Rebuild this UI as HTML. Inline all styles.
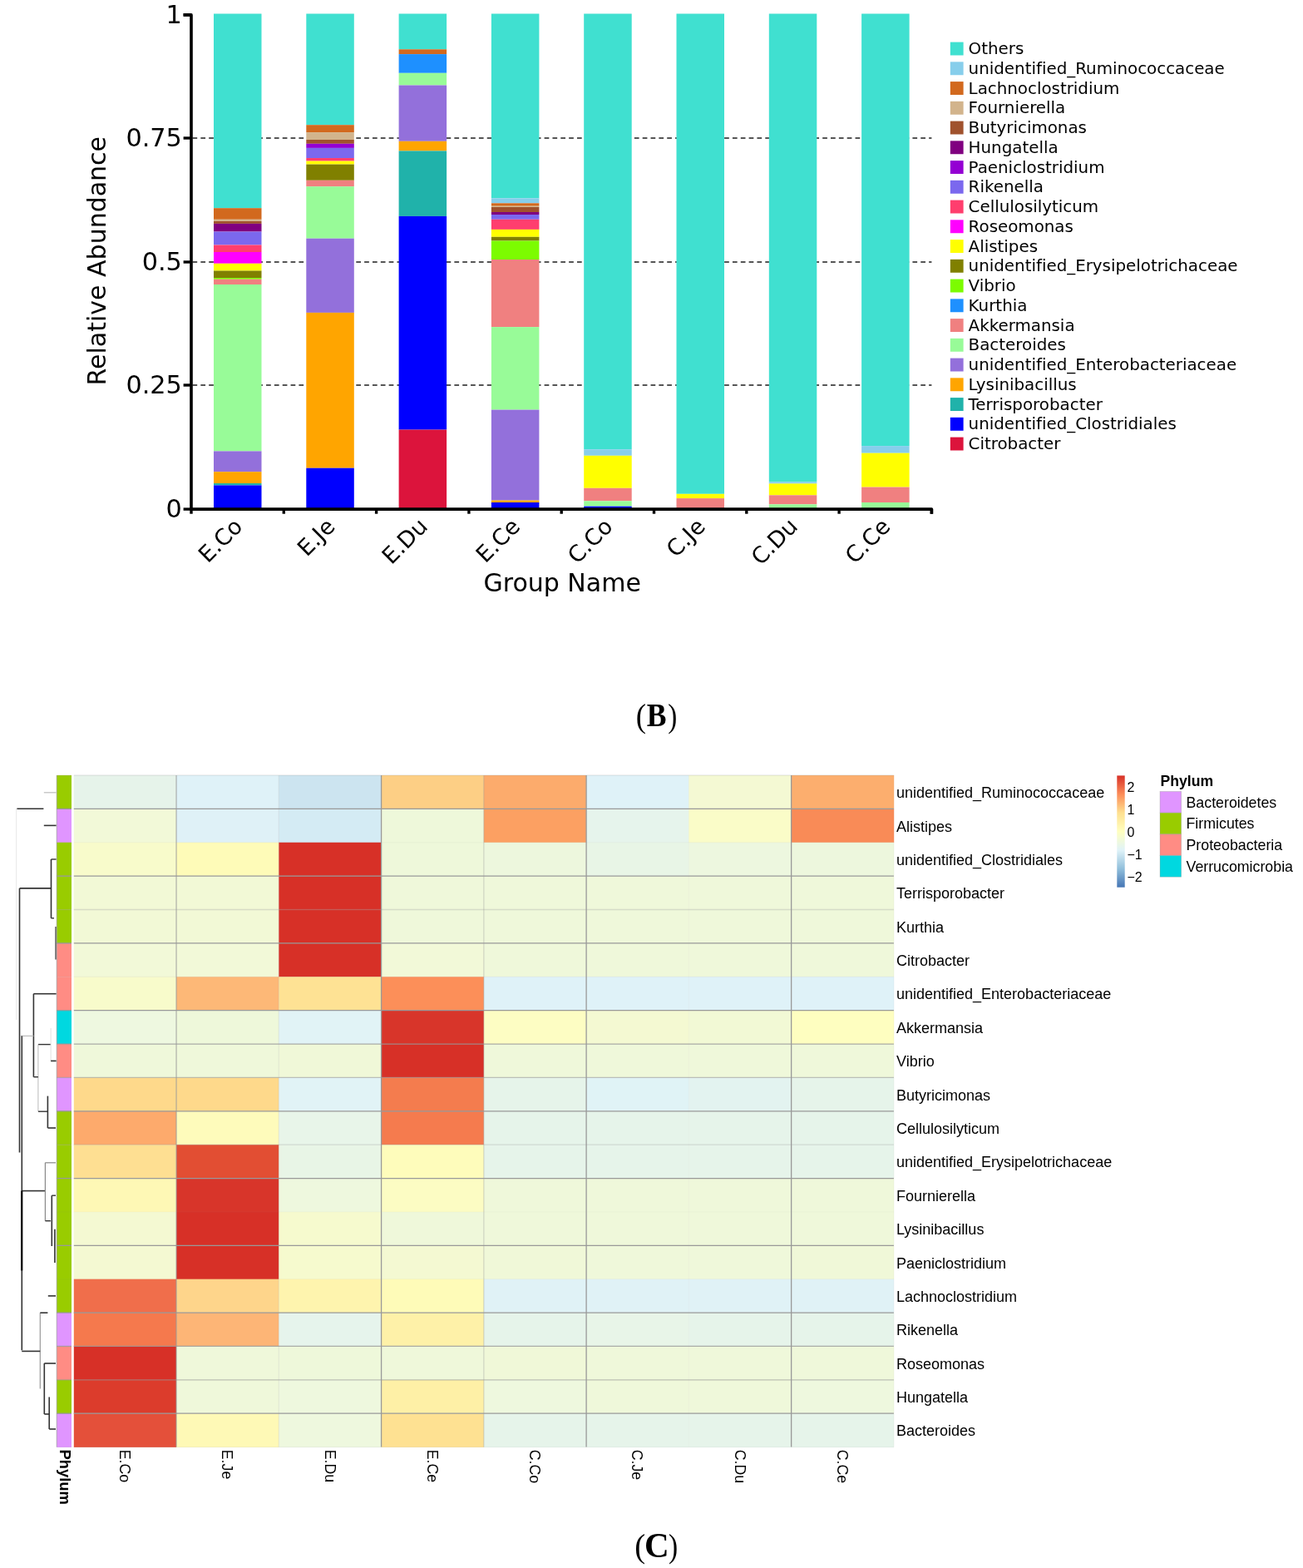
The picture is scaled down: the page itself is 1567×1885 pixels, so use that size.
<!DOCTYPE html><html><head><meta charset="utf-8"><style>html,body{margin:0;padding:0;background:#fff;}svg{display:block;}.dj{font-family:"DejaVu Sans",sans-serif;} .ls{font-family:"Liberation Sans",Arial,sans-serif;} .lr{font-family:"Liberation Serif","Times New Roman",serif;} text{font-variant-ligatures:none;font-feature-settings:"liga" 0;}</style></head><body>
<svg width="1567" height="1885" viewBox="0 0 1567 1885">
<rect width="1567" height="1885" fill="#fff"/>
<line x1="230.0" y1="463.00" x2="1120.4" y2="463.00" stroke="#555" stroke-width="1.8" stroke-dasharray="5.7 4.14" stroke-dashoffset="-1.5"/>
<line x1="230.0" y1="315.00" x2="1120.4" y2="315.00" stroke="#555" stroke-width="1.8" stroke-dasharray="5.7 4.14" stroke-dashoffset="-1.5"/>
<line x1="230.0" y1="166.00" x2="1120.4" y2="166.00" stroke="#555" stroke-width="1.8" stroke-dasharray="5.7 4.14" stroke-dashoffset="-1.5"/>
<rect x="257.00" y="16.50" width="57.5" height="233.70" fill="#40E0D0"/>
<rect x="257.00" y="250.20" width="57.5" height="13.60" fill="#D2691E"/>
<rect x="257.00" y="263.80" width="57.5" height="2.20" fill="#D2B48C"/>
<rect x="257.00" y="266.00" width="57.5" height="2.90" fill="#A0522D"/>
<rect x="257.00" y="268.90" width="57.5" height="9.60" fill="#800080"/>
<rect x="257.00" y="278.50" width="57.5" height="16.00" fill="#7B68EE"/>
<rect x="257.00" y="294.50" width="57.5" height="8.50" fill="#FF3E6E"/>
<rect x="257.00" y="303.00" width="57.5" height="13.80" fill="#FF00FF"/>
<rect x="257.00" y="316.80" width="57.5" height="8.70" fill="#FFFF00"/>
<rect x="257.00" y="325.50" width="57.5" height="8.50" fill="#808000"/>
<rect x="257.00" y="334.00" width="57.5" height="1.70" fill="#7CFC00"/>
<rect x="257.00" y="335.70" width="57.5" height="6.30" fill="#F08080"/>
<rect x="257.00" y="342.00" width="57.5" height="200.40" fill="#98FB98"/>
<rect x="257.00" y="542.40" width="57.5" height="24.80" fill="#9370DB"/>
<rect x="257.00" y="567.20" width="57.5" height="13.80" fill="#FFA500"/>
<rect x="257.00" y="581.00" width="57.5" height="2.40" fill="#20B2AA"/>
<rect x="257.00" y="583.40" width="57.5" height="28.60" fill="#0000FF"/>
<rect x="368.30" y="16.50" width="57.5" height="133.70" fill="#40E0D0"/>
<rect x="368.30" y="150.20" width="57.5" height="8.90" fill="#D2691E"/>
<rect x="368.30" y="159.10" width="57.5" height="8.90" fill="#D2B48C"/>
<rect x="368.30" y="168.00" width="57.5" height="4.80" fill="#A0522D"/>
<rect x="368.30" y="172.80" width="57.5" height="5.10" fill="#9400D3"/>
<rect x="368.30" y="177.90" width="57.5" height="12.10" fill="#7B68EE"/>
<rect x="368.30" y="190.00" width="57.5" height="3.60" fill="#FF3E6E"/>
<rect x="368.30" y="193.60" width="57.5" height="4.00" fill="#FFFF00"/>
<rect x="368.30" y="197.60" width="57.5" height="19.20" fill="#808000"/>
<rect x="368.30" y="216.80" width="57.5" height="7.40" fill="#F08080"/>
<rect x="368.30" y="224.20" width="57.5" height="62.50" fill="#98FB98"/>
<rect x="368.30" y="286.70" width="57.5" height="89.20" fill="#9370DB"/>
<rect x="368.30" y="375.90" width="57.5" height="186.80" fill="#FFA500"/>
<rect x="368.30" y="562.70" width="57.5" height="49.30" fill="#0000FF"/>
<rect x="479.60" y="16.50" width="57.5" height="42.80" fill="#40E0D0"/>
<rect x="479.60" y="59.30" width="57.5" height="5.80" fill="#D2691E"/>
<rect x="479.60" y="65.10" width="57.5" height="22.70" fill="#1E90FF"/>
<rect x="479.60" y="87.80" width="57.5" height="14.70" fill="#98FB98"/>
<rect x="479.60" y="102.50" width="57.5" height="67.30" fill="#9370DB"/>
<rect x="479.60" y="169.80" width="57.5" height="11.60" fill="#FFA500"/>
<rect x="479.60" y="181.40" width="57.5" height="78.50" fill="#20B2AA"/>
<rect x="479.60" y="259.90" width="57.5" height="256.70" fill="#0000FF"/>
<rect x="479.60" y="516.60" width="57.5" height="95.40" fill="#DC143C"/>
<rect x="590.90" y="16.50" width="57.5" height="221.80" fill="#40E0D0"/>
<rect x="590.90" y="238.30" width="57.5" height="6.00" fill="#87CEEB"/>
<rect x="590.90" y="244.30" width="57.5" height="3.40" fill="#D2691E"/>
<rect x="590.90" y="247.70" width="57.5" height="1.30" fill="#D2B48C"/>
<rect x="590.90" y="249.00" width="57.5" height="6.00" fill="#A0522D"/>
<rect x="590.90" y="255.00" width="57.5" height="3.00" fill="#800080"/>
<rect x="590.90" y="258.00" width="57.5" height="5.80" fill="#7B68EE"/>
<rect x="590.90" y="263.80" width="57.5" height="12.10" fill="#FF3E6E"/>
<rect x="590.90" y="275.90" width="57.5" height="8.90" fill="#FFFF00"/>
<rect x="590.90" y="284.80" width="57.5" height="4.70" fill="#808000"/>
<rect x="590.90" y="289.50" width="57.5" height="22.50" fill="#7CFC00"/>
<rect x="590.90" y="312.00" width="57.5" height="81.10" fill="#F08080"/>
<rect x="590.90" y="393.10" width="57.5" height="99.50" fill="#98FB98"/>
<rect x="590.90" y="492.60" width="57.5" height="108.90" fill="#9370DB"/>
<rect x="590.90" y="601.50" width="57.5" height="2.50" fill="#FFA500"/>
<rect x="590.90" y="604.00" width="57.5" height="8.00" fill="#0000FF"/>
<rect x="702.20" y="16.50" width="57.5" height="523.70" fill="#40E0D0"/>
<rect x="702.20" y="540.20" width="57.5" height="7.60" fill="#87CEEB"/>
<rect x="702.20" y="547.80" width="57.5" height="39.00" fill="#FFFF00"/>
<rect x="702.20" y="586.80" width="57.5" height="15.50" fill="#F08080"/>
<rect x="702.20" y="602.30" width="57.5" height="6.40" fill="#98FB98"/>
<rect x="702.20" y="608.70" width="57.5" height="3.30" fill="#0000FF"/>
<rect x="813.50" y="16.50" width="57.5" height="577.30" fill="#40E0D0"/>
<rect x="813.50" y="593.80" width="57.5" height="5.30" fill="#FFFF00"/>
<rect x="813.50" y="599.10" width="57.5" height="12.90" fill="#F08080"/>
<rect x="924.80" y="16.50" width="57.5" height="562.90" fill="#40E0D0"/>
<rect x="924.80" y="579.40" width="57.5" height="2.00" fill="#87CEEB"/>
<rect x="924.80" y="581.40" width="57.5" height="13.90" fill="#FFFF00"/>
<rect x="924.80" y="595.30" width="57.5" height="11.00" fill="#F08080"/>
<rect x="924.80" y="606.30" width="57.5" height="5.70" fill="#98FB98"/>
<rect x="1036.10" y="16.50" width="57.5" height="519.60" fill="#40E0D0"/>
<rect x="1036.10" y="536.10" width="57.5" height="8.60" fill="#87CEEB"/>
<rect x="1036.10" y="544.70" width="57.5" height="40.90" fill="#FFFF00"/>
<rect x="1036.10" y="585.60" width="57.5" height="18.40" fill="#F08080"/>
<rect x="1036.10" y="604.00" width="57.5" height="8.00" fill="#98FB98"/>
<path d="M220.6 17.9 H230.0 V612.1 H1120.4 V617.7" fill="none" stroke="#000" stroke-width="3.6" stroke-linejoin="round"/>
<line x1="220.6" y1="612.10" x2="230.0" y2="612.10" stroke="#000" stroke-width="3.4"/>
<line x1="220.6" y1="463.00" x2="230.0" y2="463.00" stroke="#000" stroke-width="3.4"/>
<line x1="220.6" y1="315.00" x2="230.0" y2="315.00" stroke="#000" stroke-width="3.4"/>
<line x1="220.6" y1="166.00" x2="230.0" y2="166.00" stroke="#000" stroke-width="3.4"/>
<line x1="220.6" y1="17.90" x2="230.0" y2="17.90" stroke="#000" stroke-width="3.4"/>
<line x1="230.00" y1="612.1" x2="230.00" y2="617.7" stroke="#000" stroke-width="3.4"/>
<line x1="341.30" y1="612.1" x2="341.30" y2="617.7" stroke="#000" stroke-width="3.4"/>
<line x1="452.60" y1="612.1" x2="452.60" y2="617.7" stroke="#000" stroke-width="3.4"/>
<line x1="563.90" y1="612.1" x2="563.90" y2="617.7" stroke="#000" stroke-width="3.4"/>
<line x1="675.20" y1="612.1" x2="675.20" y2="617.7" stroke="#000" stroke-width="3.4"/>
<line x1="786.50" y1="612.1" x2="786.50" y2="617.7" stroke="#000" stroke-width="3.4"/>
<line x1="897.80" y1="612.1" x2="897.80" y2="617.7" stroke="#000" stroke-width="3.4"/>
<line x1="1009.10" y1="612.1" x2="1009.10" y2="617.7" stroke="#000" stroke-width="3.4"/>
<line x1="1120.40" y1="612.1" x2="1120.40" y2="617.7" stroke="#000" stroke-width="3.4"/>
<text class="dj" x="218.9" y="621.60" font-size="30.3" text-anchor="end">0</text>
<text class="dj" x="218.9" y="472.50" font-size="30.3" text-anchor="end">0.25</text>
<text class="dj" x="218.9" y="324.50" font-size="30.3" text-anchor="end">0.5</text>
<text class="dj" x="218.9" y="175.50" font-size="30.3" text-anchor="end">0.75</text>
<text class="dj" x="218.9" y="28.00" font-size="30.3" text-anchor="end">1</text>
<text class="dj" transform="translate(126.9 313.7) rotate(-90)" font-size="30" text-anchor="middle">Relative Abundance</text>
<text class="dj" x="676.2" y="710.6" font-size="30" text-anchor="middle">Group Name</text>
<text class="dj" transform="translate(293.15 634.5) rotate(-45)" font-size="27" text-anchor="end">E.Co</text>
<text class="dj" transform="translate(404.45 634.5) rotate(-45)" font-size="27" text-anchor="end">E.Je</text>
<text class="dj" transform="translate(515.75 634.5) rotate(-45)" font-size="27" text-anchor="end">E.Du</text>
<text class="dj" transform="translate(627.05 634.5) rotate(-45)" font-size="27" text-anchor="end">E.Ce</text>
<text class="dj" transform="translate(738.35 634.5) rotate(-45)" font-size="27" text-anchor="end">C.Co</text>
<text class="dj" transform="translate(849.65 634.5) rotate(-45)" font-size="27" text-anchor="end">C.Je</text>
<text class="dj" transform="translate(960.95 634.5) rotate(-45)" font-size="27" text-anchor="end">C.Du</text>
<text class="dj" transform="translate(1072.25 634.5) rotate(-45)" font-size="27" text-anchor="end">C.Ce</text>
<rect x="1142.8" y="50.60" width="15.8" height="15.9" fill="#40E0D0"/>
<text class="dj" x="1164.6" y="65.20" font-size="19.85">Others</text>
<rect x="1142.8" y="74.35" width="15.8" height="15.9" fill="#87CEEB"/>
<text class="dj" x="1164.6" y="88.95" font-size="19.85">unidentified_Ruminococcaceae</text>
<rect x="1142.8" y="98.10" width="15.8" height="15.9" fill="#D2691E"/>
<text class="dj" x="1164.6" y="112.70" font-size="19.85">Lachnoclostridium</text>
<rect x="1142.8" y="121.85" width="15.8" height="15.9" fill="#D2B48C"/>
<text class="dj" x="1164.6" y="136.45" font-size="19.85">Fournierella</text>
<rect x="1142.8" y="145.60" width="15.8" height="15.9" fill="#A0522D"/>
<text class="dj" x="1164.6" y="160.20" font-size="19.85">Butyricimonas</text>
<rect x="1142.8" y="169.35" width="15.8" height="15.9" fill="#800080"/>
<text class="dj" x="1164.6" y="183.95" font-size="19.85">Hungatella</text>
<rect x="1142.8" y="193.10" width="15.8" height="15.9" fill="#9400D3"/>
<text class="dj" x="1164.6" y="207.70" font-size="19.85">Paeniclostridium</text>
<rect x="1142.8" y="216.85" width="15.8" height="15.9" fill="#7B68EE"/>
<text class="dj" x="1164.6" y="231.45" font-size="19.85">Rikenella</text>
<rect x="1142.8" y="240.60" width="15.8" height="15.9" fill="#FF3E6E"/>
<text class="dj" x="1164.6" y="255.20" font-size="19.85">Cellulosilyticum</text>
<rect x="1142.8" y="264.35" width="15.8" height="15.9" fill="#FF00FF"/>
<text class="dj" x="1164.6" y="278.95" font-size="19.85">Roseomonas</text>
<rect x="1142.8" y="288.10" width="15.8" height="15.9" fill="#FFFF00"/>
<text class="dj" x="1164.6" y="302.70" font-size="19.85">Alistipes</text>
<rect x="1142.8" y="311.85" width="15.8" height="15.9" fill="#808000"/>
<text class="dj" x="1164.6" y="326.45" font-size="19.85">unidentified_Erysipelotrichaceae</text>
<rect x="1142.8" y="335.60" width="15.8" height="15.9" fill="#7CFC00"/>
<text class="dj" x="1164.6" y="350.20" font-size="19.85">Vibrio</text>
<rect x="1142.8" y="359.35" width="15.8" height="15.9" fill="#1E90FF"/>
<text class="dj" x="1164.6" y="373.95" font-size="19.85">Kurthia</text>
<rect x="1142.8" y="383.10" width="15.8" height="15.9" fill="#F08080"/>
<text class="dj" x="1164.6" y="397.70" font-size="19.85">Akkermansia</text>
<rect x="1142.8" y="406.85" width="15.8" height="15.9" fill="#98FB98"/>
<text class="dj" x="1164.6" y="421.45" font-size="19.85">Bacteroides</text>
<rect x="1142.8" y="430.60" width="15.8" height="15.9" fill="#9370DB"/>
<text class="dj" x="1164.6" y="445.20" font-size="19.85">unidentified_Enterobacteriaceae</text>
<rect x="1142.8" y="454.35" width="15.8" height="15.9" fill="#FFA500"/>
<text class="dj" x="1164.6" y="468.95" font-size="19.85">Lysinibacillus</text>
<rect x="1142.8" y="478.10" width="15.8" height="15.9" fill="#20B2AA"/>
<text class="dj" x="1164.6" y="492.70" font-size="19.85">Terrisporobacter</text>
<rect x="1142.8" y="501.85" width="15.8" height="15.9" fill="#0000FF"/>
<text class="dj" x="1164.6" y="516.45" font-size="19.85">unidentified_Clostridiales</text>
<rect x="1142.8" y="525.60" width="15.8" height="15.9" fill="#DC143C"/>
<text class="dj" x="1164.6" y="540.20" font-size="19.85">Citrobacter</text>
<g class="lr" font-size="40"><text transform="translate(764.8 873.6) scale(0.92 1)">(</text><text transform="translate(777.8 872.6) scale(0.89 1)" font-weight="bold">B</text><text transform="translate(803.2 873.6) scale(0.83 1)">)</text><text transform="translate(763.3 1871.9) scale(0.97 1)">(</text><text transform="translate(775.1 1871.9) scale(0.957 1)" font-weight="bold" font-size="43">C</text><text transform="translate(804.0 1871.9) scale(0.84 1)">)</text></g>
<rect x="68.2" y="932.00" width="17.8" height="40.68" fill="#99CC00"/>
<rect x="88.80" y="932.00" width="123.56" height="40.68" fill="#E6F3EA"/>
<rect x="212.06" y="932.00" width="123.56" height="40.68" fill="#DFF2F8"/>
<rect x="335.32" y="932.00" width="123.56" height="40.68" fill="#CCE4F0"/>
<rect x="458.58" y="932.00" width="123.56" height="40.68" fill="#FDCF85"/>
<rect x="581.84" y="932.00" width="123.56" height="40.68" fill="#FCAB6C"/>
<rect x="705.10" y="932.00" width="123.56" height="40.68" fill="#DFF2F8"/>
<rect x="828.36" y="932.00" width="123.56" height="40.68" fill="#F4F9D3"/>
<rect x="951.62" y="932.00" width="123.56" height="40.68" fill="#FCAE6E"/>
<rect x="68.2" y="972.38" width="17.8" height="40.68" fill="#E095FF"/>
<rect x="88.80" y="972.38" width="123.56" height="40.68" fill="#F2F9D8"/>
<rect x="212.06" y="972.38" width="123.56" height="40.68" fill="#DFF1F7"/>
<rect x="335.32" y="972.38" width="123.56" height="40.68" fill="#D4EBF4"/>
<rect x="458.58" y="972.38" width="123.56" height="40.68" fill="#EEF8DA"/>
<rect x="581.84" y="972.38" width="123.56" height="40.68" fill="#FCA062"/>
<rect x="705.10" y="972.38" width="123.56" height="40.68" fill="#E6F4EC"/>
<rect x="828.36" y="972.38" width="123.56" height="40.68" fill="#FAFCC8"/>
<rect x="951.62" y="972.38" width="123.56" height="40.68" fill="#F98B57"/>
<rect x="68.2" y="1012.76" width="17.8" height="40.68" fill="#99CC00"/>
<rect x="88.80" y="1012.76" width="123.56" height="40.68" fill="#F8FBCB"/>
<rect x="212.06" y="1012.76" width="123.56" height="40.68" fill="#FEFBB8"/>
<rect x="335.32" y="1012.76" width="123.56" height="40.68" fill="#D73027"/>
<rect x="458.58" y="1012.76" width="123.56" height="40.68" fill="#EEF8DA"/>
<rect x="581.84" y="1012.76" width="123.56" height="40.68" fill="#EDF7DD"/>
<rect x="705.10" y="1012.76" width="123.56" height="40.68" fill="#E8F5E6"/>
<rect x="828.36" y="1012.76" width="123.56" height="40.68" fill="#EDF7DF"/>
<rect x="951.62" y="1012.76" width="123.56" height="40.68" fill="#EDF7DD"/>
<rect x="68.2" y="1053.14" width="17.8" height="40.68" fill="#99CC00"/>
<rect x="88.80" y="1053.14" width="123.56" height="40.68" fill="#F2F9D6"/>
<rect x="212.06" y="1053.14" width="123.56" height="40.68" fill="#F2F9D6"/>
<rect x="335.32" y="1053.14" width="123.56" height="40.68" fill="#D73027"/>
<rect x="458.58" y="1053.14" width="123.56" height="40.68" fill="#EFF8DA"/>
<rect x="581.84" y="1053.14" width="123.56" height="40.68" fill="#EFF8DA"/>
<rect x="705.10" y="1053.14" width="123.56" height="40.68" fill="#EFF8DA"/>
<rect x="828.36" y="1053.14" width="123.56" height="40.68" fill="#EFF8DA"/>
<rect x="951.62" y="1053.14" width="123.56" height="40.68" fill="#EFF8DA"/>
<rect x="68.2" y="1093.52" width="17.8" height="40.68" fill="#99CC00"/>
<rect x="88.80" y="1093.52" width="123.56" height="40.68" fill="#F2F9D6"/>
<rect x="212.06" y="1093.52" width="123.56" height="40.68" fill="#F2F9D6"/>
<rect x="335.32" y="1093.52" width="123.56" height="40.68" fill="#D73027"/>
<rect x="458.58" y="1093.52" width="123.56" height="40.68" fill="#EFF8DA"/>
<rect x="581.84" y="1093.52" width="123.56" height="40.68" fill="#EFF8DA"/>
<rect x="705.10" y="1093.52" width="123.56" height="40.68" fill="#EFF8DA"/>
<rect x="828.36" y="1093.52" width="123.56" height="40.68" fill="#EFF8DA"/>
<rect x="951.62" y="1093.52" width="123.56" height="40.68" fill="#EFF8DA"/>
<rect x="68.2" y="1133.90" width="17.8" height="40.68" fill="#FF8C84"/>
<rect x="88.80" y="1133.90" width="123.56" height="40.68" fill="#F2F9D8"/>
<rect x="212.06" y="1133.90" width="123.56" height="40.68" fill="#F2F9D8"/>
<rect x="335.32" y="1133.90" width="123.56" height="40.68" fill="#D73027"/>
<rect x="458.58" y="1133.90" width="123.56" height="40.68" fill="#F2F9D8"/>
<rect x="581.84" y="1133.90" width="123.56" height="40.68" fill="#EFF8DA"/>
<rect x="705.10" y="1133.90" width="123.56" height="40.68" fill="#EFF8DA"/>
<rect x="828.36" y="1133.90" width="123.56" height="40.68" fill="#EFF8DA"/>
<rect x="951.62" y="1133.90" width="123.56" height="40.68" fill="#EFF8DA"/>
<rect x="68.2" y="1174.28" width="17.8" height="40.68" fill="#FF8C84"/>
<rect x="88.80" y="1174.28" width="123.56" height="40.68" fill="#F8FBCB"/>
<rect x="212.06" y="1174.28" width="123.56" height="40.68" fill="#FDB877"/>
<rect x="335.32" y="1174.28" width="123.56" height="40.68" fill="#FEE294"/>
<rect x="458.58" y="1174.28" width="123.56" height="40.68" fill="#FC8F59"/>
<rect x="581.84" y="1174.28" width="123.56" height="40.68" fill="#DFF2F8"/>
<rect x="705.10" y="1174.28" width="123.56" height="40.68" fill="#DFF2F8"/>
<rect x="828.36" y="1174.28" width="123.56" height="40.68" fill="#DFF2F8"/>
<rect x="951.62" y="1174.28" width="123.56" height="40.68" fill="#DFF2F8"/>
<rect x="68.2" y="1214.66" width="17.8" height="40.68" fill="#00D8E0"/>
<rect x="88.80" y="1214.66" width="123.56" height="40.68" fill="#EEF8E0"/>
<rect x="212.06" y="1214.66" width="123.56" height="40.68" fill="#EEF8DA"/>
<rect x="335.32" y="1214.66" width="123.56" height="40.68" fill="#E1F3F6"/>
<rect x="458.58" y="1214.66" width="123.56" height="40.68" fill="#D8352A"/>
<rect x="581.84" y="1214.66" width="123.56" height="40.68" fill="#FDFDC3"/>
<rect x="705.10" y="1214.66" width="123.56" height="40.68" fill="#F4F9D2"/>
<rect x="828.36" y="1214.66" width="123.56" height="40.68" fill="#F2F9D5"/>
<rect x="951.62" y="1214.66" width="123.56" height="40.68" fill="#FEFEC0"/>
<rect x="68.2" y="1255.04" width="17.8" height="40.68" fill="#FF8C84"/>
<rect x="88.80" y="1255.04" width="123.56" height="40.68" fill="#EFF8DA"/>
<rect x="212.06" y="1255.04" width="123.56" height="40.68" fill="#EFF8DA"/>
<rect x="335.32" y="1255.04" width="123.56" height="40.68" fill="#F0F8D8"/>
<rect x="458.58" y="1255.04" width="123.56" height="40.68" fill="#D73027"/>
<rect x="581.84" y="1255.04" width="123.56" height="40.68" fill="#EFF8DA"/>
<rect x="705.10" y="1255.04" width="123.56" height="40.68" fill="#EFF8DA"/>
<rect x="828.36" y="1255.04" width="123.56" height="40.68" fill="#EFF8DA"/>
<rect x="951.62" y="1255.04" width="123.56" height="40.68" fill="#EFF8DA"/>
<rect x="68.2" y="1295.42" width="17.8" height="40.68" fill="#E095FF"/>
<rect x="88.80" y="1295.42" width="123.56" height="40.68" fill="#FED98B"/>
<rect x="212.06" y="1295.42" width="123.56" height="40.68" fill="#FED98B"/>
<rect x="335.32" y="1295.42" width="123.56" height="40.68" fill="#E1F3F6"/>
<rect x="458.58" y="1295.42" width="123.56" height="40.68" fill="#F47C4E"/>
<rect x="581.84" y="1295.42" width="123.56" height="40.68" fill="#E6F4EA"/>
<rect x="705.10" y="1295.42" width="123.56" height="40.68" fill="#E0F3F6"/>
<rect x="828.36" y="1295.42" width="123.56" height="40.68" fill="#E3F3F0"/>
<rect x="951.62" y="1295.42" width="123.56" height="40.68" fill="#E6F4EA"/>
<rect x="68.2" y="1335.80" width="17.8" height="40.68" fill="#99CC00"/>
<rect x="88.80" y="1335.80" width="123.56" height="40.68" fill="#FDAA6C"/>
<rect x="212.06" y="1335.80" width="123.56" height="40.68" fill="#FEFBBB"/>
<rect x="335.32" y="1335.80" width="123.56" height="40.68" fill="#E8F5E9"/>
<rect x="458.58" y="1335.80" width="123.56" height="40.68" fill="#F57B4E"/>
<rect x="581.84" y="1335.80" width="123.56" height="40.68" fill="#E6F4EA"/>
<rect x="705.10" y="1335.80" width="123.56" height="40.68" fill="#E6F4EA"/>
<rect x="828.36" y="1335.80" width="123.56" height="40.68" fill="#E6F4EA"/>
<rect x="951.62" y="1335.80" width="123.56" height="40.68" fill="#E6F4EA"/>
<rect x="68.2" y="1376.18" width="17.8" height="40.68" fill="#99CC00"/>
<rect x="88.80" y="1376.18" width="123.56" height="40.68" fill="#FEDF92"/>
<rect x="212.06" y="1376.18" width="123.56" height="40.68" fill="#E24E33"/>
<rect x="335.32" y="1376.18" width="123.56" height="40.68" fill="#E8F5E6"/>
<rect x="458.58" y="1376.18" width="123.56" height="40.68" fill="#FEFCBB"/>
<rect x="581.84" y="1376.18" width="123.56" height="40.68" fill="#E6F4EA"/>
<rect x="705.10" y="1376.18" width="123.56" height="40.68" fill="#E6F4EA"/>
<rect x="828.36" y="1376.18" width="123.56" height="40.68" fill="#E6F4EA"/>
<rect x="951.62" y="1376.18" width="123.56" height="40.68" fill="#E6F4EA"/>
<rect x="68.2" y="1416.56" width="17.8" height="40.68" fill="#99CC00"/>
<rect x="88.80" y="1416.56" width="123.56" height="40.68" fill="#FEF8B5"/>
<rect x="212.06" y="1416.56" width="123.56" height="40.68" fill="#D8352A"/>
<rect x="335.32" y="1416.56" width="123.56" height="40.68" fill="#EEF8DE"/>
<rect x="458.58" y="1416.56" width="123.56" height="40.68" fill="#FCFCC3"/>
<rect x="581.84" y="1416.56" width="123.56" height="40.68" fill="#EFF8DA"/>
<rect x="705.10" y="1416.56" width="123.56" height="40.68" fill="#EFF8DA"/>
<rect x="828.36" y="1416.56" width="123.56" height="40.68" fill="#EFF8DA"/>
<rect x="951.62" y="1416.56" width="123.56" height="40.68" fill="#EFF8DA"/>
<rect x="68.2" y="1456.94" width="17.8" height="40.68" fill="#99CC00"/>
<rect x="88.80" y="1456.94" width="123.56" height="40.68" fill="#F4F9D2"/>
<rect x="212.06" y="1456.94" width="123.56" height="40.68" fill="#D73027"/>
<rect x="335.32" y="1456.94" width="123.56" height="40.68" fill="#F6FACE"/>
<rect x="458.58" y="1456.94" width="123.56" height="40.68" fill="#EFF8DA"/>
<rect x="581.84" y="1456.94" width="123.56" height="40.68" fill="#EFF8DA"/>
<rect x="705.10" y="1456.94" width="123.56" height="40.68" fill="#EFF8DA"/>
<rect x="828.36" y="1456.94" width="123.56" height="40.68" fill="#EFF8DA"/>
<rect x="951.62" y="1456.94" width="123.56" height="40.68" fill="#EFF8DA"/>
<rect x="68.2" y="1497.32" width="17.8" height="40.68" fill="#99CC00"/>
<rect x="88.80" y="1497.32" width="123.56" height="40.68" fill="#F4F9D2"/>
<rect x="212.06" y="1497.32" width="123.56" height="40.68" fill="#D73027"/>
<rect x="335.32" y="1497.32" width="123.56" height="40.68" fill="#F6FACE"/>
<rect x="458.58" y="1497.32" width="123.56" height="40.68" fill="#F4F9D2"/>
<rect x="581.84" y="1497.32" width="123.56" height="40.68" fill="#F0F8D8"/>
<rect x="705.10" y="1497.32" width="123.56" height="40.68" fill="#EFF8DA"/>
<rect x="828.36" y="1497.32" width="123.56" height="40.68" fill="#EFF8DA"/>
<rect x="951.62" y="1497.32" width="123.56" height="40.68" fill="#F0F8D8"/>
<rect x="68.2" y="1537.70" width="17.8" height="40.68" fill="#99CC00"/>
<rect x="88.80" y="1537.70" width="123.56" height="40.68" fill="#F06E4B"/>
<rect x="212.06" y="1537.70" width="123.56" height="40.68" fill="#FED58B"/>
<rect x="335.32" y="1537.70" width="123.56" height="40.68" fill="#FEF4AE"/>
<rect x="458.58" y="1537.70" width="123.56" height="40.68" fill="#FEFBB8"/>
<rect x="581.84" y="1537.70" width="123.56" height="40.68" fill="#E0F2F6"/>
<rect x="705.10" y="1537.70" width="123.56" height="40.68" fill="#E0F2F6"/>
<rect x="828.36" y="1537.70" width="123.56" height="40.68" fill="#E0F2F6"/>
<rect x="951.62" y="1537.70" width="123.56" height="40.68" fill="#E0F2F6"/>
<rect x="68.2" y="1578.08" width="17.8" height="40.68" fill="#E095FF"/>
<rect x="88.80" y="1578.08" width="123.56" height="40.68" fill="#F5794D"/>
<rect x="212.06" y="1578.08" width="123.56" height="40.68" fill="#FDB576"/>
<rect x="335.32" y="1578.08" width="123.56" height="40.68" fill="#E6F4EC"/>
<rect x="458.58" y="1578.08" width="123.56" height="40.68" fill="#FEF1A8"/>
<rect x="581.84" y="1578.08" width="123.56" height="40.68" fill="#E6F4EA"/>
<rect x="705.10" y="1578.08" width="123.56" height="40.68" fill="#E8F5E8"/>
<rect x="828.36" y="1578.08" width="123.56" height="40.68" fill="#E6F4EA"/>
<rect x="951.62" y="1578.08" width="123.56" height="40.68" fill="#E6F4EA"/>
<rect x="68.2" y="1618.46" width="17.8" height="40.68" fill="#FF8C84"/>
<rect x="88.80" y="1618.46" width="123.56" height="40.68" fill="#D73027"/>
<rect x="212.06" y="1618.46" width="123.56" height="40.68" fill="#EFF8DA"/>
<rect x="335.32" y="1618.46" width="123.56" height="40.68" fill="#EEF8DA"/>
<rect x="458.58" y="1618.46" width="123.56" height="40.68" fill="#EFF8DA"/>
<rect x="581.84" y="1618.46" width="123.56" height="40.68" fill="#F0F8D8"/>
<rect x="705.10" y="1618.46" width="123.56" height="40.68" fill="#EFF8DA"/>
<rect x="828.36" y="1618.46" width="123.56" height="40.68" fill="#EFF8DA"/>
<rect x="951.62" y="1618.46" width="123.56" height="40.68" fill="#EFF8DA"/>
<rect x="68.2" y="1658.84" width="17.8" height="40.68" fill="#99CC00"/>
<rect x="88.80" y="1658.84" width="123.56" height="40.68" fill="#DC3C2C"/>
<rect x="212.06" y="1658.84" width="123.56" height="40.68" fill="#EFF8DA"/>
<rect x="335.32" y="1658.84" width="123.56" height="40.68" fill="#EEF8DE"/>
<rect x="458.58" y="1658.84" width="123.56" height="40.68" fill="#FEF0A6"/>
<rect x="581.84" y="1658.84" width="123.56" height="40.68" fill="#EEF8DE"/>
<rect x="705.10" y="1658.84" width="123.56" height="40.68" fill="#EFF8DA"/>
<rect x="828.36" y="1658.84" width="123.56" height="40.68" fill="#EFF8DA"/>
<rect x="951.62" y="1658.84" width="123.56" height="40.68" fill="#EEF8DE"/>
<rect x="68.2" y="1699.22" width="17.8" height="40.68" fill="#E095FF"/>
<rect x="88.80" y="1699.22" width="123.56" height="40.68" fill="#E4503A"/>
<rect x="212.06" y="1699.22" width="123.56" height="40.68" fill="#FEF9B6"/>
<rect x="335.32" y="1699.22" width="123.56" height="40.68" fill="#EEF8DE"/>
<rect x="458.58" y="1699.22" width="123.56" height="40.68" fill="#FEE192"/>
<rect x="581.84" y="1699.22" width="123.56" height="40.68" fill="#E6F4EA"/>
<rect x="705.10" y="1699.22" width="123.56" height="40.68" fill="#E6F4EA"/>
<rect x="828.36" y="1699.22" width="123.56" height="40.68" fill="#E6F4EA"/>
<rect x="951.62" y="1699.22" width="123.56" height="40.68" fill="#E6F4EA"/>
<line x1="88.8" y1="932.00" x2="1074.88" y2="932.00" stroke="#999" stroke-width="1.3" stroke-opacity="0.2"/>
<line x1="68.2" y1="932.00" x2="86" y2="932.00" stroke="#999" stroke-width="1.3" stroke-opacity="0.2"/>
<line x1="88.8" y1="972.38" x2="1074.88" y2="972.38" stroke="#999" stroke-width="1.3" stroke-opacity="1"/>
<line x1="68.2" y1="972.38" x2="86" y2="972.38" stroke="#999" stroke-width="1.3" stroke-opacity="1"/>
<line x1="88.8" y1="1012.76" x2="1074.88" y2="1012.76" stroke="#999" stroke-width="1.3" stroke-opacity="0.05"/>
<line x1="68.2" y1="1012.76" x2="86" y2="1012.76" stroke="#999" stroke-width="1.3" stroke-opacity="0.05"/>
<line x1="88.8" y1="1053.14" x2="1074.88" y2="1053.14" stroke="#999" stroke-width="1.3" stroke-opacity="1"/>
<line x1="68.2" y1="1053.14" x2="86" y2="1053.14" stroke="#999" stroke-width="1.3" stroke-opacity="1"/>
<line x1="88.8" y1="1093.52" x2="1074.88" y2="1093.52" stroke="#999" stroke-width="1.3" stroke-opacity="0.3"/>
<line x1="68.2" y1="1093.52" x2="86" y2="1093.52" stroke="#999" stroke-width="1.3" stroke-opacity="0.3"/>
<line x1="88.8" y1="1133.90" x2="1074.88" y2="1133.90" stroke="#999" stroke-width="1.3" stroke-opacity="1"/>
<line x1="68.2" y1="1133.90" x2="86" y2="1133.90" stroke="#999" stroke-width="1.3" stroke-opacity="1"/>
<line x1="88.8" y1="1174.28" x2="1074.88" y2="1174.28" stroke="#999" stroke-width="1.3" stroke-opacity="0.1"/>
<line x1="68.2" y1="1174.28" x2="86" y2="1174.28" stroke="#999" stroke-width="1.3" stroke-opacity="0.1"/>
<line x1="88.8" y1="1214.66" x2="1074.88" y2="1214.66" stroke="#999" stroke-width="1.3" stroke-opacity="1"/>
<line x1="68.2" y1="1214.66" x2="86" y2="1214.66" stroke="#999" stroke-width="1.3" stroke-opacity="1"/>
<line x1="88.8" y1="1255.04" x2="1074.88" y2="1255.04" stroke="#999" stroke-width="1.3" stroke-opacity="0.8"/>
<line x1="68.2" y1="1255.04" x2="86" y2="1255.04" stroke="#999" stroke-width="1.3" stroke-opacity="0.8"/>
<line x1="88.8" y1="1295.42" x2="1074.88" y2="1295.42" stroke="#999" stroke-width="1.3" stroke-opacity="0.6"/>
<line x1="68.2" y1="1295.42" x2="86" y2="1295.42" stroke="#999" stroke-width="1.3" stroke-opacity="0.6"/>
<line x1="88.8" y1="1335.80" x2="1074.88" y2="1335.80" stroke="#999" stroke-width="1.3" stroke-opacity="1"/>
<line x1="68.2" y1="1335.80" x2="86" y2="1335.80" stroke="#999" stroke-width="1.3" stroke-opacity="1"/>
<line x1="88.8" y1="1376.18" x2="1074.88" y2="1376.18" stroke="#999" stroke-width="1.3" stroke-opacity="0.3"/>
<line x1="68.2" y1="1376.18" x2="86" y2="1376.18" stroke="#999" stroke-width="1.3" stroke-opacity="0.3"/>
<line x1="88.8" y1="1416.56" x2="1074.88" y2="1416.56" stroke="#999" stroke-width="1.3" stroke-opacity="1"/>
<line x1="68.2" y1="1416.56" x2="86" y2="1416.56" stroke="#999" stroke-width="1.3" stroke-opacity="1"/>
<line x1="88.8" y1="1456.94" x2="1074.88" y2="1456.94" stroke="#999" stroke-width="1.3" stroke-opacity="0.05"/>
<line x1="68.2" y1="1456.94" x2="86" y2="1456.94" stroke="#999" stroke-width="1.3" stroke-opacity="0.05"/>
<line x1="88.8" y1="1497.32" x2="1074.88" y2="1497.32" stroke="#999" stroke-width="1.3" stroke-opacity="1"/>
<line x1="68.2" y1="1497.32" x2="86" y2="1497.32" stroke="#999" stroke-width="1.3" stroke-opacity="1"/>
<line x1="88.8" y1="1537.70" x2="1074.88" y2="1537.70" stroke="#999" stroke-width="1.3" stroke-opacity="0.05"/>
<line x1="68.2" y1="1537.70" x2="86" y2="1537.70" stroke="#999" stroke-width="1.3" stroke-opacity="0.05"/>
<line x1="88.8" y1="1578.08" x2="1074.88" y2="1578.08" stroke="#999" stroke-width="1.3" stroke-opacity="1"/>
<line x1="68.2" y1="1578.08" x2="86" y2="1578.08" stroke="#999" stroke-width="1.3" stroke-opacity="1"/>
<line x1="88.8" y1="1618.46" x2="1074.88" y2="1618.46" stroke="#999" stroke-width="1.3" stroke-opacity="0.8"/>
<line x1="68.2" y1="1618.46" x2="86" y2="1618.46" stroke="#999" stroke-width="1.3" stroke-opacity="0.8"/>
<line x1="88.8" y1="1658.84" x2="1074.88" y2="1658.84" stroke="#999" stroke-width="1.3" stroke-opacity="0.6"/>
<line x1="68.2" y1="1658.84" x2="86" y2="1658.84" stroke="#999" stroke-width="1.3" stroke-opacity="0.6"/>
<line x1="88.8" y1="1699.22" x2="1074.88" y2="1699.22" stroke="#999" stroke-width="1.3" stroke-opacity="1"/>
<line x1="68.2" y1="1699.22" x2="86" y2="1699.22" stroke="#999" stroke-width="1.3" stroke-opacity="1"/>
<line x1="88.8" y1="1739.60" x2="1074.88" y2="1739.60" stroke="#999" stroke-width="1.3" stroke-opacity="0.1"/>
<line x1="68.2" y1="1739.60" x2="86" y2="1739.60" stroke="#999" stroke-width="1.3" stroke-opacity="0.1"/>
<line x1="68.2" y1="932.0" x2="68.2" y2="1739.60" stroke="#999" stroke-width="1.0" stroke-opacity="0.7"/>
<line x1="88.80" y1="932.0" x2="88.80" y2="1739.60" stroke="#999" stroke-width="1.3" stroke-opacity="0.0"/>
<line x1="212.06" y1="932.0" x2="212.06" y2="1739.60" stroke="#999" stroke-width="1.3" stroke-opacity="0.7"/>
<line x1="335.32" y1="932.0" x2="335.32" y2="1739.60" stroke="#999" stroke-width="1.3" stroke-opacity="0.15"/>
<line x1="458.58" y1="932.0" x2="458.58" y2="1739.60" stroke="#999" stroke-width="1.3" stroke-opacity="1"/>
<line x1="581.84" y1="932.0" x2="581.84" y2="1739.60" stroke="#999" stroke-width="1.3" stroke-opacity="0.35"/>
<line x1="705.10" y1="932.0" x2="705.10" y2="1739.60" stroke="#999" stroke-width="1.3" stroke-opacity="1"/>
<line x1="828.36" y1="932.0" x2="828.36" y2="1739.60" stroke="#999" stroke-width="1.3" stroke-opacity="0.05"/>
<line x1="951.62" y1="932.0" x2="951.62" y2="1739.60" stroke="#999" stroke-width="1.3" stroke-opacity="1"/>
<line x1="1074.88" y1="932.0" x2="1074.88" y2="1739.60" stroke="#999" stroke-width="1.3" stroke-opacity="0.05"/>
<text class="ls" x="1078.0" y="959.19" font-size="18">unidentified_Ruminococcaceae</text>
<text class="ls" x="1078.0" y="999.57" font-size="18">Alistipes</text>
<text class="ls" x="1078.0" y="1039.95" font-size="18">unidentified_Clostridiales</text>
<text class="ls" x="1078.0" y="1080.33" font-size="18">Terrisporobacter</text>
<text class="ls" x="1078.0" y="1120.71" font-size="18">Kurthia</text>
<text class="ls" x="1078.0" y="1161.09" font-size="18">Citrobacter</text>
<text class="ls" x="1078.0" y="1201.47" font-size="18">unidentified_Enterobacteriaceae</text>
<text class="ls" x="1078.0" y="1241.85" font-size="18">Akkermansia</text>
<text class="ls" x="1078.0" y="1282.23" font-size="18">Vibrio</text>
<text class="ls" x="1078.0" y="1322.61" font-size="18">Butyricimonas</text>
<text class="ls" x="1078.0" y="1362.99" font-size="18">Cellulosilyticum</text>
<text class="ls" x="1078.0" y="1403.37" font-size="18">unidentified_Erysipelotrichaceae</text>
<text class="ls" x="1078.0" y="1443.75" font-size="18">Fournierella</text>
<text class="ls" x="1078.0" y="1484.13" font-size="18">Lysinibacillus</text>
<text class="ls" x="1078.0" y="1524.51" font-size="18">Paeniclostridium</text>
<text class="ls" x="1078.0" y="1564.89" font-size="18">Lachnoclostridium</text>
<text class="ls" x="1078.0" y="1605.27" font-size="18">Rikenella</text>
<text class="ls" x="1078.0" y="1645.65" font-size="18">Roseomonas</text>
<text class="ls" x="1078.0" y="1686.03" font-size="18">Hungatella</text>
<text class="ls" x="1078.0" y="1726.41" font-size="18">Bacteroides</text>
<text class="ls" transform="translate(144.13 1742.7) rotate(90)" font-size="17.8">E.Co</text>
<text class="ls" transform="translate(267.39 1742.7) rotate(90)" font-size="17.8">E.Je</text>
<text class="ls" transform="translate(390.65 1742.7) rotate(90)" font-size="17.8">E.Du</text>
<text class="ls" transform="translate(513.91 1742.7) rotate(90)" font-size="17.8">E.Ce</text>
<text class="ls" transform="translate(637.17 1742.7) rotate(90)" font-size="17.8">C.Co</text>
<text class="ls" transform="translate(760.43 1742.7) rotate(90)" font-size="17.8">C.Je</text>
<text class="ls" transform="translate(883.69 1742.7) rotate(90)" font-size="17.8">C.Du</text>
<text class="ls" transform="translate(1006.95 1742.7) rotate(90)" font-size="17.8">C.Ce</text>
<text class="ls" transform="translate(72.3 1742.4) rotate(90)" font-size="18.4" font-weight="bold">Phylum</text>
<defs><linearGradient id="cb" x1="0" y1="1" x2="0" y2="0"><stop offset="0" stop-color="#4575B4"/><stop offset="0.1667" stop-color="#91BFDB"/><stop offset="0.3333" stop-color="#E0F3F8"/><stop offset="0.5" stop-color="#FFFFBF"/><stop offset="0.6667" stop-color="#FEE090"/><stop offset="0.8333" stop-color="#FC8D59"/><stop offset="1" stop-color="#D73027"/></linearGradient></defs>
<rect x="1343.3" y="932.4" width="9.4" height="134.3" fill="url(#cb)"/>
<text class="ls" x="1355.5" y="951.50" font-size="16">2</text>
<text class="ls" x="1355.5" y="978.70" font-size="16">1</text>
<text class="ls" x="1355.5" y="1005.90" font-size="16">0</text>
<text class="ls" x="1355.5" y="1033.10" font-size="16">−1</text>
<text class="ls" x="1355.5" y="1060.30" font-size="16">−2</text>
<text class="ls" x="1395.5" y="944.6" font-size="17.6" font-weight="bold">Phylum</text>
<rect x="1395" y="951.50" width="25.6" height="25.6" fill="#E095FF" stroke="#999" stroke-opacity="0.45" stroke-width="0.8"/>
<text class="ls" x="1426.5" y="970.50" font-size="17.8">Bacteroidetes</text>
<rect x="1395" y="977.20" width="25.6" height="25.6" fill="#99CC00" stroke="#999" stroke-opacity="0.45" stroke-width="0.8"/>
<text class="ls" x="1426.5" y="996.20" font-size="17.8">Firmicutes</text>
<rect x="1395" y="1002.90" width="25.6" height="25.6" fill="#FF8C84" stroke="#999" stroke-opacity="0.45" stroke-width="0.8"/>
<text class="ls" x="1426.5" y="1021.90" font-size="17.8">Proteobacteria</text>
<rect x="1395" y="1028.60" width="25.6" height="25.6" fill="#00D8E0" stroke="#999" stroke-opacity="0.45" stroke-width="0.8"/>
<text class="ls" x="1426.5" y="1047.60" font-size="17.8">Verrucomicrobia</text>
<line x1="52.8" y1="952.8" x2="67.6" y2="952.8" stroke="#bbb" stroke-width="1.2"/>
<line x1="20.4" y1="972.2" x2="52.4" y2="972.2" stroke="#333" stroke-width="1.6"/>
<line x1="52.8" y1="992.4" x2="67.6" y2="992.4" stroke="#333" stroke-width="1.6"/>
<line x1="19.6" y1="972.2" x2="19.6" y2="1226" stroke="#e8e8e8" stroke-width="1.0"/>
<line x1="23.5" y1="1067.9" x2="23.5" y2="1385.4" stroke="#333" stroke-width="1.6"/>
<line x1="23.5" y1="1067.9" x2="61.5" y2="1067.9" stroke="#333" stroke-width="1.6"/>
<line x1="61.5" y1="1033" x2="61.5" y2="1103.8" stroke="#333" stroke-width="1.6"/>
<line x1="61.5" y1="1033" x2="67.6" y2="1033" stroke="#333" stroke-width="1.4"/>
<line x1="61.5" y1="1103.8" x2="65" y2="1103.8" stroke="#333" stroke-width="1.4"/>
<line x1="67" y1="1114" x2="67" y2="1153.4" stroke="#333" stroke-width="1.2"/>
<line x1="40.4" y1="1194.7" x2="67.6" y2="1194.7" stroke="#333" stroke-width="1.6"/>
<line x1="40.4" y1="1194.7" x2="40.4" y2="1294.7" stroke="#333" stroke-width="1.6"/>
<line x1="25" y1="1245.4" x2="40.4" y2="1245.4" stroke="#bbb" stroke-width="1.2"/>
<line x1="26.3" y1="1245.4" x2="26.3" y2="1623.3" stroke="#333" stroke-width="1.6"/>
<line x1="45.9" y1="1255.6" x2="61.1" y2="1255.6" stroke="#333" stroke-width="1.4"/>
<line x1="61.1" y1="1236" x2="61.1" y2="1275.4" stroke="#e0e0e0" stroke-width="1.0"/>
<line x1="61.1" y1="1275.4" x2="67.6" y2="1275.4" stroke="#333" stroke-width="1.6"/>
<line x1="45.9" y1="1255.6" x2="45.9" y2="1336.2" stroke="#bbb" stroke-width="1.0"/>
<line x1="40.4" y1="1294.7" x2="45.9" y2="1294.7" stroke="#333" stroke-width="1.4"/>
<line x1="46" y1="1336.2" x2="57.4" y2="1336.2" stroke="#333" stroke-width="1.4"/>
<line x1="57.4" y1="1317.6" x2="57.4" y2="1356" stroke="#333" stroke-width="1.6"/>
<line x1="57.4" y1="1356" x2="67" y2="1356" stroke="#333" stroke-width="1.6"/>
<line x1="26.2" y1="1431.6" x2="54.4" y2="1431.6" stroke="#333" stroke-width="1.6"/>
<line x1="26.2" y1="1431.6" x2="26.2" y2="1527.4" stroke="#000" stroke-width="2.2"/>
<line x1="54.4" y1="1397.8" x2="54.4" y2="1467.7" stroke="#888" stroke-width="1.2"/>
<line x1="54.4" y1="1397.8" x2="67" y2="1397.8" stroke="#888" stroke-width="1.2"/>
<line x1="54.4" y1="1467.7" x2="60.9" y2="1467.7" stroke="#333" stroke-width="1.4"/>
<line x1="62.3" y1="1437.2" x2="62.3" y2="1498" stroke="#333" stroke-width="1.6"/>
<line x1="62.3" y1="1437.2" x2="67" y2="1437.2" stroke="#333" stroke-width="1.4"/>
<line x1="65.9" y1="1477.8" x2="65.9" y2="1518" stroke="#333" stroke-width="1.6"/>
<line x1="57.8" y1="1557.9" x2="67" y2="1557.9" stroke="#333" stroke-width="1.6"/>
<line x1="48.3" y1="1578.2" x2="48.3" y2="1669.5" stroke="#999" stroke-width="1.2"/>
<line x1="48.3" y1="1578.2" x2="57.4" y2="1578.2" stroke="#333" stroke-width="1.6"/>
<line x1="26.2" y1="1624.4" x2="48.3" y2="1624.4" stroke="#333" stroke-width="1.6"/>
<line x1="53.3" y1="1639" x2="53.3" y2="1700" stroke="#333" stroke-width="1.6"/>
<line x1="53.3" y1="1639" x2="67" y2="1639" stroke="#333" stroke-width="1.6"/>
<line x1="53.3" y1="1700" x2="59" y2="1700" stroke="#333" stroke-width="1.6"/>
<line x1="59.2" y1="1679.6" x2="59.2" y2="1718" stroke="#333" stroke-width="1.6"/>
<line x1="59.2" y1="1718" x2="67" y2="1718" stroke="#333" stroke-width="1.6"/>
</svg></body></html>
